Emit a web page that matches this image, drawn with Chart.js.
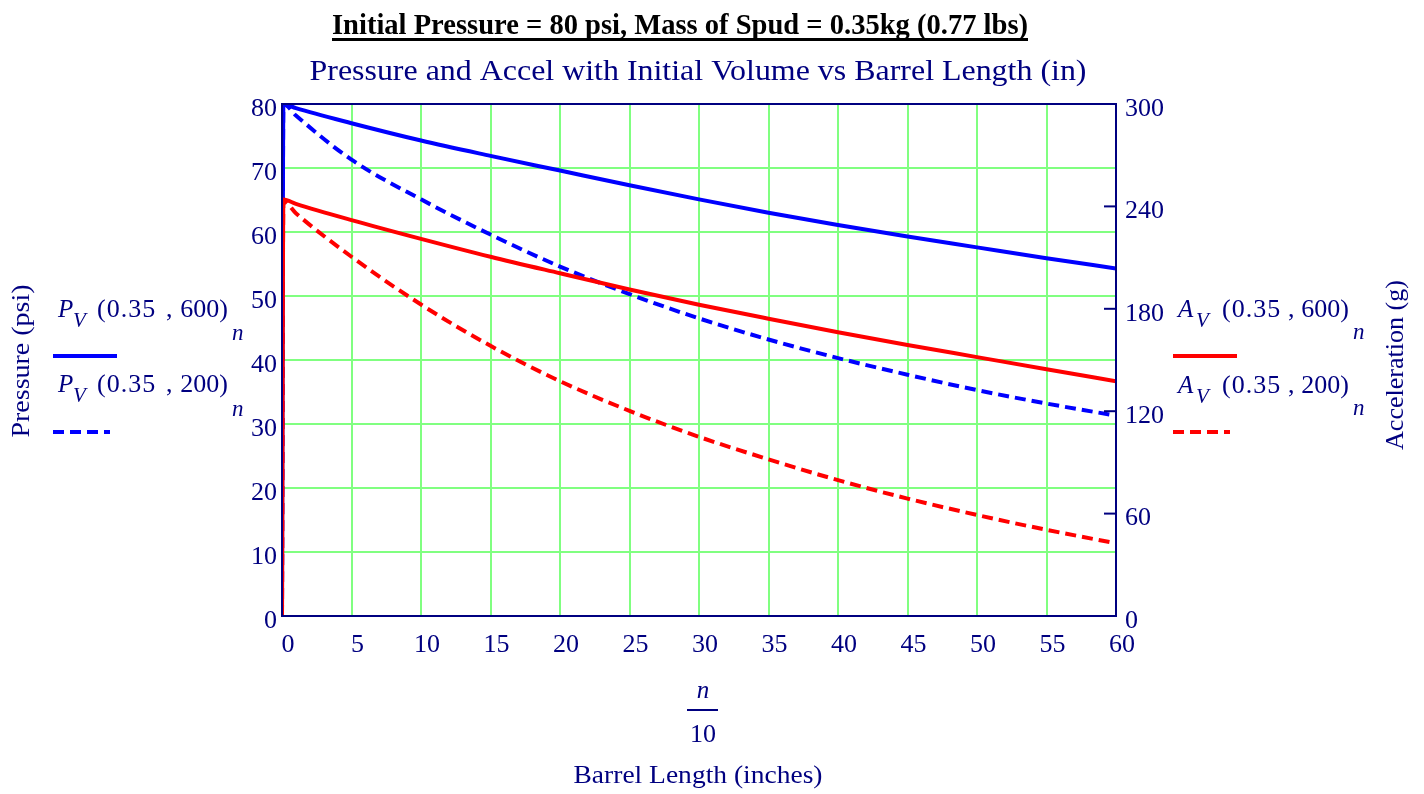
<!DOCTYPE html>
<html lang="en">
<head>
    <meta charset="UTF-8">
    <title>Pressure and Accel vs Barrel Length</title>
    <script src="https://cdn.jsdelivr.net/npm/chart.js"></script>
    <style>
        body { margin: 0; padding: 0; background: #ffffff; }
        #wrap { width: 1424px; height: 794px; }
    </style>
</head>
<body>
    <div id="wrap"><canvas id="spudChart" width="1424" height="794"></canvas></div>

    <script>
        // barrel length in inches (n / 10)
        const barrelLength = [0, 0.1, 1, 5, 10, 15, 20, 25, 30, 35, 40, 45, 50, 55, 60];
        // pressure (psi), initial volume 600 and 200
        const pressure600 = [0, 80, 79.35, 77.0, 74.3, 71.9, 69.6, 67.3, 65.1, 63.0, 61.1, 59.3, 57.6, 55.9, 54.3];
        const pressure200 = [0, 80, 78.2, 71.3, 65.1, 59.6, 54.6, 50.3, 46.5, 43.2, 40.3, 37.7, 35.3, 33.2, 31.3];
        // acceleration (g), initial volume 600 and 200
        const accel600 = [0, 244, 241.5, 232, 221, 210.5, 200.8, 191.3, 182.4, 174.2, 166.3, 158.8, 151.7, 144.6, 137.6];
        const accel200 = [0, 243, 236, 210.5, 182.5, 158.3, 137.6, 120.2, 105.0, 91.8, 79.6, 68.8, 59.2, 50.5, 42.6];

        const xTicks = [0, 5, 10, 15, 20, 25, 30, 35, 40, 45, 50, 55, 60];
        const accelTicks = [0, 60, 120, 180, 240, 300];

        const NAVY = "#000080";
        const GRID = "#80ff80";
        const SERIF = "'Liberation Serif', 'Times New Roman', serif";
        const DASH = [11, 6];

        const toPoints = ys => ys.map((y, i) => ({ x: barrelLength[i], y }));

        // draw text centred at cx, squeezed or stretched to the given width
        function fitText(ctx, text, cx, baseline, width) {
            const w = ctx.measureText(text).width;
            ctx.save();
            ctx.translate(cx, baseline);
            ctx.scale(width / w, 1);
            ctx.textAlign = "center";
            ctx.fillText(text, 0, 0);
            ctx.restore();
        }

        function legendLabel(ctx, p) {
            ctx.fillStyle = NAVY;
            ctx.textAlign = "left";
            ctx.font = "italic 25px " + SERIF;
            ctx.fillText(p.letter, p.x, p.base);
            ctx.font = "italic 21px " + SERIF;
            ctx.fillText("V", p.vx, p.base + 10);
            ctx.font = "26px " + SERIF;
            ctx.letterSpacing = "1px";
            ctx.fillText("(0.35", p.px, p.base);
            ctx.letterSpacing = "0px";
            ctx.fillText(",", p.cx, p.base);
            ctx.textAlign = "right";
            ctx.fillText(p.vol + ")", p.ex, p.base);
            ctx.textAlign = "left";
            ctx.font = "italic 23px " + SERIF;
            ctx.fillText("n", p.nx, p.nBase);
        }

        function sample(ctx, x1, x2, y, color, dash) {
            ctx.save();
            ctx.strokeStyle = color;
            ctx.lineWidth = 4;
            ctx.setLineDash(dash);
            ctx.beginPath();
            ctx.moveTo(x1, y);
            ctx.lineTo(x2, y);
            ctx.stroke();
            ctx.restore();
        }

        const decorations = {
            id: "decorations",
            afterDatasetsDraw(chart) {
                const { ctx, chartArea: a, scales } = chart;

                // frame round the plot
                ctx.save();
                ctx.strokeStyle = NAVY;
                ctx.lineWidth = 2;
                ctx.strokeRect(a.left, a.top, a.right - a.left, a.bottom - a.top);

                // inward ticks on the acceleration axis
                accelTicks.slice(1, -1).forEach(v => {
                    const y = scales.y1.getPixelForValue(v);
                    ctx.beginPath();
                    ctx.moveTo(a.right - 12, y);
                    ctx.lineTo(a.right, y);
                    ctx.stroke();
                });
                ctx.restore();
            },
            afterDraw(chart) {
                const { ctx } = chart;
                ctx.save();
                ctx.textBaseline = "alphabetic";

                // main heading, bold and underlined
                ctx.fillStyle = "#000000";
                ctx.font = "bold 29px " + SERIF;
                fitText(ctx, "Initial Pressure = 80 psi, Mass of Spud = 0.35kg (0.77 lbs)", 680, 34, 696);
                ctx.fillRect(332, 38, 696, 3);

                ctx.fillStyle = NAVY;
                ctx.font = "30px " + SERIF;
                fitText(ctx, "Pressure and Accel with Initial Volume vs Barrel Length (in)", 698, 80, 777);

                // axis titles
                ctx.font = "26px " + SERIF;
                ctx.save();
                ctx.translate(29, 361);
                ctx.rotate(-Math.PI / 2);
                fitText(ctx, "Pressure (psi)", 0, 0, 153);
                ctx.restore();
                ctx.save();
                ctx.translate(1403, 365);
                ctx.rotate(-Math.PI / 2);
                fitText(ctx, "Acceleration (g)", 0, 0, 170);
                ctx.restore();

                // x title: n over 10
                ctx.textAlign = "center";
                ctx.font = "italic 25px " + SERIF;
                ctx.fillText("n", 703, 698);
                ctx.fillRect(687, 709, 31, 2);
                ctx.font = "26px " + SERIF;
                ctx.fillText("10", 703, 742);
                fitText(ctx, "Barrel Length (inches)", 698, 783, 249);

                // series labels
                legendLabel(ctx, { letter: "P", x: 58, vx: 73, px: 97, cx: 166, ex: 228, vol: "600", nx: 232, base: 317, nBase: 340 });
                sample(ctx, 53, 117, 356, "#0000ff", []);
                legendLabel(ctx, { letter: "P", x: 58, vx: 73, px: 97, cx: 166, ex: 228, vol: "200", nx: 232, base: 392, nBase: 416 });
                sample(ctx, 53, 110, 432, "#0000ff", DASH);

                legendLabel(ctx, { letter: "A", x: 1178, vx: 1196, px: 1222, cx: 1288, ex: 1349, vol: "600", nx: 1353, base: 317, nBase: 339 });
                sample(ctx, 1173, 1237, 356, "#ff0000", []);
                legendLabel(ctx, { letter: "A", x: 1178, vx: 1196, px: 1222, cx: 1288, ex: 1349, vol: "200", nx: 1353, base: 393, nBase: 415 });
                sample(ctx, 1173, 1230, 432, "#ff0000", DASH);

                ctx.restore();
            }
        };

        const lineStyle = {
            borderWidth: 4,
            pointRadius: 0,
            fill: false,
            cubicInterpolationMode: "monotone"
        };

        const tickFont = { family: SERIF, size: 26 };

        new Chart(document.getElementById("spudChart"), {
            type: "line",
            data: {
                datasets: [
                    { ...lineStyle, data: toPoints(pressure200), yAxisID: "y", borderColor: "#0000ff", borderDash: DASH, order: 3 },
                    { ...lineStyle, data: toPoints(accel200), yAxisID: "y1", borderColor: "#ff0000", borderDash: DASH, order: 2 },
                    { ...lineStyle, data: toPoints(pressure600), yAxisID: "y", borderColor: "#0000ff", order: 1 },
                    { ...lineStyle, data: toPoints(accel600), yAxisID: "y1", borderColor: "#ff0000", order: 0 }
                ]
            },
            options: {
                responsive: false,
                animation: false,
                layout: { padding: { top: 104, left: 0, right: 0, bottom: 0 } },
                plugins: { legend: { display: false }, tooltip: { enabled: false } },
                scales: {
                    x: {
                        type: "linear",
                        min: 0,
                        max: 60,
                        afterFit: s => { s.height = 178; },
                        afterBuildTicks: s => { s.ticks = xTicks.map(v => ({ value: v })); },
                        grid: { color: GRID, lineWidth: 2, drawTicks: false },
                        border: { color: NAVY, width: 2 },
                        ticks: { color: NAVY, font: tickFont, padding: 14, labelOffset: 6, maxRotation: 0 }
                    },
                    y: {
                        position: "left",
                        min: 0,
                        max: 80,
                        afterFit: s => { s.width = 282; },
                        grid: { color: GRID, lineWidth: 2, drawTicks: false },
                        border: { color: NAVY, width: 2 },
                        ticks: { stepSize: 10, color: NAVY, font: tickFont, padding: 5, labelOffset: 5 }
                    },
                    y1: {
                        position: "right",
                        min: 0,
                        max: 300,
                        afterFit: s => { s.width = 308; },
                        afterBuildTicks: s => { s.ticks = accelTicks.map(v => ({ value: v })); },
                        grid: { display: false, drawTicks: false },
                        border: { color: NAVY, width: 2 },
                        ticks: { color: NAVY, font: tickFont, padding: 9, labelOffset: 5 }
                    }
                }
            },
            plugins: [decorations]
        });
    </script>
</body>
</html>
